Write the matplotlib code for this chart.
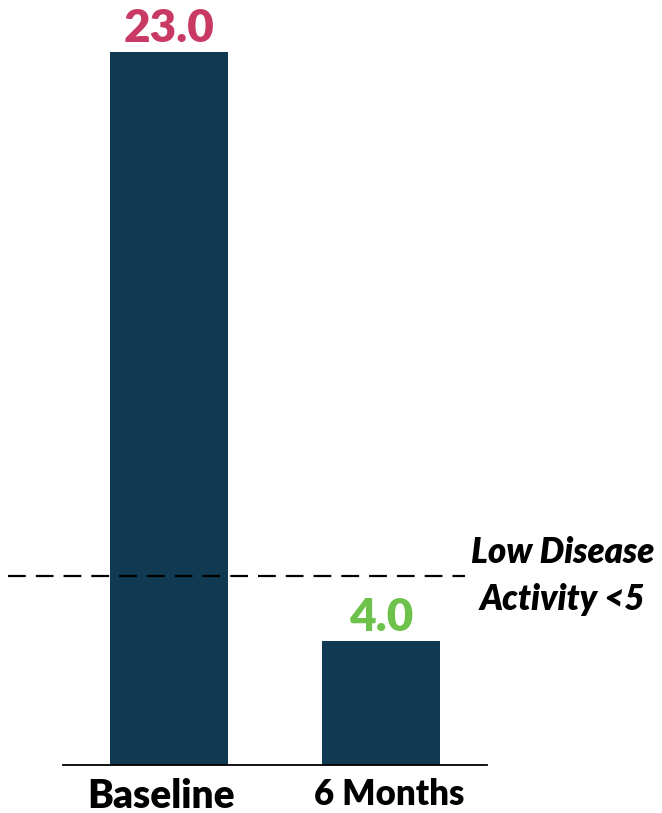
import matplotlib.pyplot as plt
from matplotlib.transforms import ScaledTranslation

# chart data
categories = ['Baseline', '6 Months']
values = [23.0, 4.0]
label_colors = ['#C83A64', '#6CC24A']
threshold_label = 'Low Disease\nActivity <5'
threshold_y = 6.1  # where the dashed line sits in the picture

plt.rcParams['font.family'] = ['Lato', 'DejaVu Sans']

fig = plt.figure(figsize=(6.62, 8.13), dpi=100)
ax = fig.add_axes([63 / 662, 48 / 813, 424 / 662, 765 / 813])

x = list(range(len(categories)))
ax.bar(x, values, width=0.557, color='#0F3A52')

ax.set_xlim(-0.5, 1.5)
ax.set_ylim(0, 24.68)

# value labels above bars
for xi, v, c in zip(x, values, label_colors):
    ax.annotate(f'{v:.1f}', (xi, v), xytext=(0, 10), textcoords='offset pixels',
                ha='center', va='baseline', fontsize=33, fontweight='heavy', color=c)

# dashed threshold line, reaching past the left edge of the axis
ax.axhline(threshold_y, xmin=-0.13, xmax=0.948, color='black', lw=1.6,
           dashes=(8, 4.5), clip_on=False)
ax.text(1.855, threshold_y, threshold_label, ha='center', va='center',
        fontsize=25, fontweight='heavy', fontstyle='italic', linespacing=1.5,
        clip_on=False)

# axis styling
for s in ['top', 'right', 'left']:
    ax.spines[s].set_visible(False)
ax.spines['bottom'].set_linewidth(1.3)
ax.set_yticks([])
ax.set_xticks(x)
ax.set_xticklabels(categories, fontweight='heavy')
ax.tick_params(axis='x', length=0, pad=9)
tl = ax.get_xticklabels()
tl[0].set_fontsize(28)
tl[1].set_fontsize(25)
# labels sit a little off the bar centres in the original
for lab, dx in zip(tl, [-0.08, 0.08]):
    lab.set_transform(lab.get_transform() + ScaledTranslation(dx, 0, fig.dpi_scale_trans))

fig.savefig('out.png', dpi=100)
